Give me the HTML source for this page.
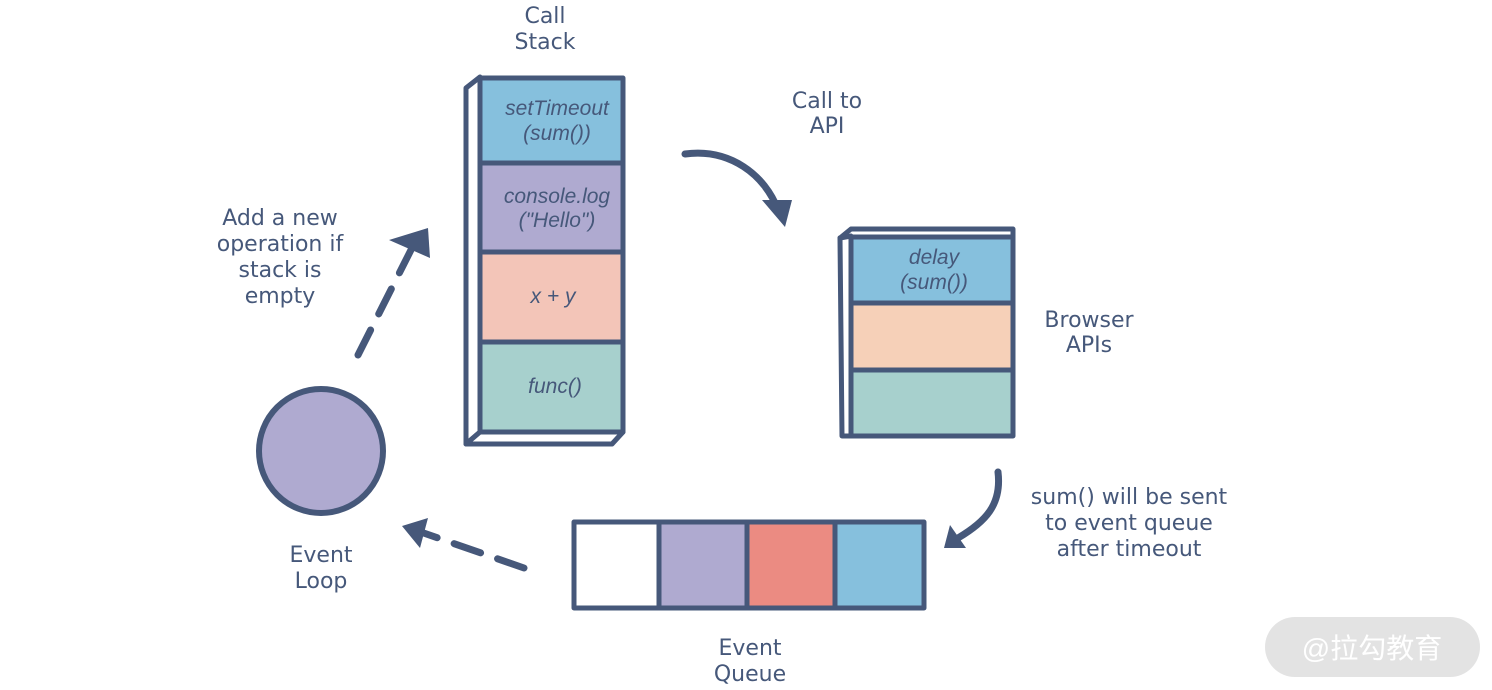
<!DOCTYPE html>
<html><head><meta charset="utf-8"><style>
html,body{margin:0;padding:0;background:#fff;}
svg{display:block}
text{font-family:"DejaVu Sans","Liberation Sans","Noto Sans CJK SC",sans-serif;fill:#46587a;}
.it text{font-family:"Liberation Sans",sans-serif;}
</style></head><body>
<svg width="1492" height="690" viewBox="0 0 1492 690" xmlns="http://www.w3.org/2000/svg">
<g stroke="#46587a" stroke-width="5" stroke-linejoin="round">
<polygon points="466,88 480,77 480,432 466,444" fill="#fff" stroke-width="5"/>
<polygon points="466,444 480,432 623,432 612,444" fill="#fff" stroke-width="5"/>
<rect x="480" y="78" width="143" height="85" fill="#86c0dd"/>
<rect x="480" y="163" width="143" height="89" fill="#afaad0"/>
<rect x="480" y="252" width="143" height="90" fill="#f3c5b8"/>
<rect x="480" y="342" width="143" height="90" fill="#a7d0cd"/>
<polygon points="840,238 851,229 1013,229 1013,238" fill="#fff" stroke-width="5"/>
<polygon points="840,238 851,236 851,436 842,436" fill="#fff" stroke-width="5"/>
<rect x="851" y="237" width="162" height="66" fill="#86c0dd"/>
<rect x="851" y="303" width="162" height="67" fill="#f6d0b8"/>
<rect x="851" y="370" width="162" height="66" fill="#a7d0cd"/>
<rect x="574" y="522" width="85" height="86" fill="#fff"/>
<rect x="659" y="522" width="88" height="86" fill="#afaad0"/>
<rect x="747" y="522" width="88" height="86" fill="#eb8b82"/>
<rect x="835" y="522" width="89" height="86" fill="#86c0dd"/>
<circle cx="321" cy="451" r="62" fill="#afaad0" stroke-width="6"/>
</g>
<g stroke="#46587a" fill="none" stroke-width="7" stroke-linecap="round">
<path d="M685,154 C730,148 765,175 778,210"/>
<path d="M998,472 C1002,505 985,522 958,538"/>
<path d="M358,355 L416,240" stroke-dasharray="28,18"/>
<path d="M524,568 L415,530" stroke-dasharray="28,18"/>
</g>
<g fill="#46587a">
<polygon points="762,200 792,200 785,227"/>
<polygon points="950,525 966,548 944,548"/>
<polygon points="389,240 428,228 430,258"/>
<polygon points="428,518 402,526 420,548"/>
</g>
<g font-size="22" text-anchor="middle">
<text x="545" y="23">Call</text><text x="545" y="49">Stack</text>
<text x="827" y="108">Call to</text><text x="827" y="133">API</text>
<text x="280" y="225">Add a new</text><text x="280" y="251">operation if</text>
<text x="280" y="277">stack is</text><text x="280" y="303">empty</text>
<text x="1089" y="327">Browser</text><text x="1089" y="352">APIs</text>
<text x="1129" y="504">sum() will be sent</text><text x="1129" y="530">to event queue</text>
<text x="1129" y="556">after timeout</text>
<text x="321" y="562">Event</text><text x="321" y="588">Loop</text>
<text x="750" y="655">Event</text><text x="750" y="681">Queue</text>
</g>
<g class="it" font-size="21" font-style="italic" text-anchor="middle">
<text x="557" y="115">setTimeout</text><text x="557" y="140">(sum())</text>
<text x="557" y="203">console.log</text><text x="557" y="227">("Hello")</text>
<text x="553" y="303">x + y</text>
<text x="555" y="393">func()</text>
<text x="934" y="264">delay</text><text x="934" y="289">(sum())</text>
</g>
<rect x="1265" y="617" width="215" height="60" rx="30" fill="#e3e3e3"/>
<text x="1372" y="658" font-size="28" text-anchor="middle" style="fill:#fff;font-family:'Liberation Sans','Noto Sans CJK SC',sans-serif">@拉勾教育</text>
</svg>
</body></html>
